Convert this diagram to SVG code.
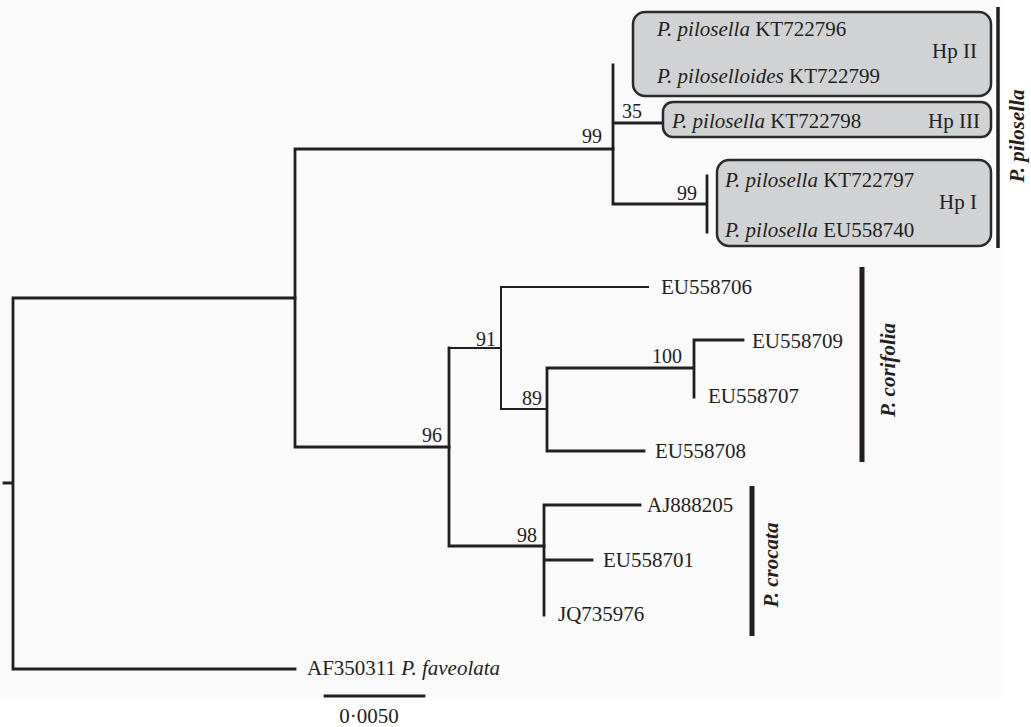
<svg xmlns="http://www.w3.org/2000/svg" width="1031" height="727" viewBox="0 0 1031 727">
<style>
text{font-family:"Liberation Serif","Times New Roman",serif;font-size:21px;fill:#231f20}
.bs{font-size:20px}
.r{text-anchor:end}
.i{font-style:italic}
.clade{font-weight:bold;font-style:italic;text-anchor:middle}
.box{fill:#d1d2d4;stroke:#2a2a2a;stroke-width:2.5}
.t{stroke:#231f20;stroke-width:2.8;fill:none;stroke-linecap:square}
.n{stroke:#231f20;stroke-width:2;fill:none;stroke-linecap:square}
.bar{stroke:#231f20;stroke-width:5}
</style>
<rect x="0" y="0" width="1003" height="697" fill="#fafafa"/>
<g id="connectors">
<path class="t" d="M4,483H13M13,298V669M13,298H295M13,669H295"/>
<path class="t" d="M295,149V447M295,149H613M295,447H449"/>
<path class="t" d="M613,65V204M613,123H663M613,204H707M707,176V232"/>
<path class="t" d="M449,348V546M449,546H544"/>
<path class="n" d="M449,348H501M501,287V409M501,287H648M501,409H547"/>
<path class="t" d="M547,368V451M547,368H694M547,451H644M694,340V397M694,340H743"/>
<path class="t" d="M544,505V615M544,505H640M544,560H592"/>
<path class="t" d="M325,696H424"/>
</g>
<g id="bootstrap">
<text class="bs r" x="602" y="143">99</text>
<text class="bs" x="622" y="118">35</text>
<text class="bs r" x="697" y="200">99</text>
<text class="bs r" x="442" y="442">96</text>
<text class="bs r" x="496" y="346">91</text>
<text class="bs r" x="542" y="405">89</text>
<text class="bs r" x="682" y="363">100</text>
<text class="bs r" x="537" y="542">98</text>
</g>
<g id="hp2">
<rect class="box" x="633" y="12" width="358" height="84" rx="12"/>
<text x="657" y="36"><tspan class="i">P. pilosella</tspan> KT722796</text>
<text class="r" x="977" y="58">Hp II</text>
<text x="657" y="83"><tspan class="i">P. piloselloides</tspan> KT722799</text>
</g>
<g id="hp3">
<rect class="box" x="663" y="102" width="328" height="35" rx="10"/>
<text x="672" y="128"><tspan class="i">P. pilosella</tspan> KT722798</text>
<text class="r" x="980" y="128">Hp III</text>
</g>
<g id="hp1">
<rect class="box" x="717" y="160" width="274" height="86" rx="12"/>
<text x="725" y="187"><tspan class="i">P. pilosella</tspan> KT722797</text>
<text class="r" x="977" y="209">Hp I</text>
<text x="725" y="237"><tspan class="i">P. pilosella</tspan> EU558740</text>
</g>
<g id="eu558706"><text x="661" y="294">EU558706</text></g>
<g id="eu558709"><text x="752" y="348">EU558709</text></g>
<g id="eu558707"><text x="708" y="403">EU558707</text></g>
<g id="eu558708"><text x="655" y="458">EU558708</text></g>
<g id="aj888205"><text x="647" y="512">AJ888205</text></g>
<g id="eu558701"><text x="603" y="567">EU558701</text></g>
<g id="jq735976"><text x="558" y="621">JQ735976</text></g>
<g id="af350311"><text x="307" y="675">AF350311 <tspan class="i">P. faveolata</tspan></text></g>
<g id="scale"><text x="369" y="723" text-anchor="middle">0·0050</text></g>
<g id="clade-pilosella">
<line class="bar" x1="998" y1="7" x2="998" y2="248" style="stroke-width:3.5"/>
<text class="clade" transform="translate(1024,136) rotate(-90)">P. pilosella</text>
</g>
<g id="clade-corifolia">
<line class="bar" x1="862" y1="267" x2="862" y2="462"/>
<text class="clade" transform="translate(895,370) rotate(-90)">P. corifolia</text>
</g>
<g id="clade-crocata">
<line class="bar" x1="752" y1="486" x2="752" y2="636"/>
<text class="clade" transform="translate(778,565) rotate(-90)">P. crocata</text>
</g>
</svg>
